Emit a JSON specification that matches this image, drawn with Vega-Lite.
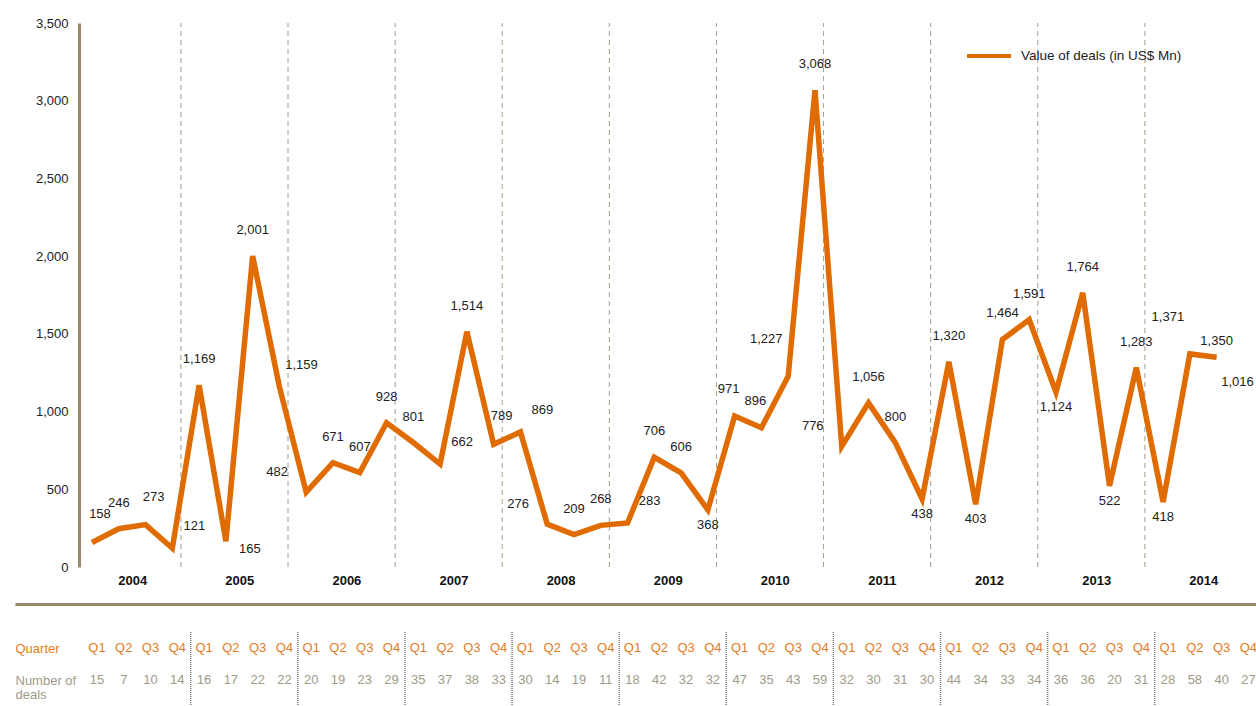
{
  "$schema": "https://vega.github.io/schema/vega-lite/v6.json",
  "width": 1241,
  "height": 683,
  "autosize": {"type": "none"},
  "padding": {"left": 15, "top": 23, "right": 0, "bottom": 0},
  "background": "white",
  "config": {
    "view": {"stroke": null},
    "font": "Liberation Sans",
    "axis": {"grid": false},
    "text": {"font": "Liberation Sans"}
  },
  "data": {
    "values": [
      {"t": 0, "year": 2004, "q": "Q1", "value": 158, "deals": 15},
      {"t": 1, "year": 2004, "q": "Q2", "value": 246, "deals": 7},
      {"t": 2, "year": 2004, "q": "Q3", "value": 273, "deals": 10},
      {"t": 3, "year": 2004, "q": "Q4", "value": 121, "deals": 14},
      {"t": 4, "year": 2005, "q": "Q1", "value": 1169, "deals": 16},
      {"t": 5, "year": 2005, "q": "Q2", "value": 165, "deals": 17},
      {"t": 6, "year": 2005, "q": "Q3", "value": 2001, "deals": 22},
      {"t": 7, "year": 2005, "q": "Q4", "value": 1159, "deals": 22},
      {"t": 8, "year": 2006, "q": "Q1", "value": 482, "deals": 20},
      {"t": 9, "year": 2006, "q": "Q2", "value": 671, "deals": 19},
      {"t": 10, "year": 2006, "q": "Q3", "value": 607, "deals": 23},
      {"t": 11, "year": 2006, "q": "Q4", "value": 928, "deals": 29},
      {"t": 12, "year": 2007, "q": "Q1", "value": 801, "deals": 35},
      {"t": 13, "year": 2007, "q": "Q2", "value": 662, "deals": 37},
      {"t": 14, "year": 2007, "q": "Q3", "value": 1514, "deals": 38},
      {"t": 15, "year": 2007, "q": "Q4", "value": 789, "deals": 33},
      {"t": 16, "year": 2008, "q": "Q1", "value": 869, "deals": 30},
      {"t": 17, "year": 2008, "q": "Q2", "value": 276, "deals": 14},
      {"t": 18, "year": 2008, "q": "Q3", "value": 209, "deals": 19},
      {"t": 19, "year": 2008, "q": "Q4", "value": 268, "deals": 11},
      {"t": 20, "year": 2009, "q": "Q1", "value": 283, "deals": 18},
      {"t": 21, "year": 2009, "q": "Q2", "value": 706, "deals": 42},
      {"t": 22, "year": 2009, "q": "Q3", "value": 606, "deals": 32},
      {"t": 23, "year": 2009, "q": "Q4", "value": 368, "deals": 32},
      {"t": 24, "year": 2010, "q": "Q1", "value": 971, "deals": 47},
      {"t": 25, "year": 2010, "q": "Q2", "value": 896, "deals": 35},
      {"t": 26, "year": 2010, "q": "Q3", "value": 1227, "deals": 43},
      {"t": 27, "year": 2010, "q": "Q4", "value": 3068, "deals": 59},
      {"t": 28, "year": 2011, "q": "Q1", "value": 776, "deals": 32},
      {"t": 29, "year": 2011, "q": "Q2", "value": 1056, "deals": 30},
      {"t": 30, "year": 2011, "q": "Q3", "value": 800, "deals": 31},
      {"t": 31, "year": 2011, "q": "Q4", "value": 438, "deals": 30},
      {"t": 32, "year": 2012, "q": "Q1", "value": 1320, "deals": 44},
      {"t": 33, "year": 2012, "q": "Q2", "value": 403, "deals": 34},
      {"t": 34, "year": 2012, "q": "Q3", "value": 1464, "deals": 33},
      {"t": 35, "year": 2012, "q": "Q4", "value": 1591, "deals": 34},
      {"t": 36, "year": 2013, "q": "Q1", "value": 1124, "deals": 36},
      {"t": 37, "year": 2013, "q": "Q2", "value": 1764, "deals": 36},
      {"t": 38, "year": 2013, "q": "Q3", "value": 522, "deals": 20},
      {"t": 39, "year": 2013, "q": "Q4", "value": 1283, "deals": 31},
      {"t": 40, "year": 2014, "q": "Q1", "value": 418, "deals": 28},
      {"t": 41, "year": 2014, "q": "Q2", "value": 1371, "deals": 58},
      {"t": 42, "year": 2014, "q": "Q3", "value": 1350, "deals": 40},
      {"t": 43, "year": 2014, "q": "Q4", "value": 1016, "deals": 27}
    ]
  },
  "encoding": {
    "x": {
      "field": "t",
      "type": "quantitative",
      "scale": {"domain": [-2.875, 43.47], "nice": false, "zero": false},
      "axis": {
        "orient": "bottom",
        "offset": -102,
        "values": [1.5, 5.5, 9.5, 13.5, 17.5, 21.5, 25.5, 29.5, 33.5, 37.5, 41.5],
        "labelExpr": "'' + (2004 + (datum.value - 1.5) / 4)",
        "ticks": false,
        "tickSize": 0,
        "domainColor": "#988A68",
        "domainWidth": 3,
        "labelFontWeight": "bold",
        "labelFontSize": 13,
        "labelColor": "#111111",
        "labelPadding": -24,
        "labelBaseline": "middle",
        "labelFlush": false,
        "labelOverlap": false,
        "title": null,
        "grid": false
      }
    }
  },
  "layer": [
    {
      "layer": [
        {
          "transform": [{"filter": "datum.q == 'Q4' && datum.t < 43"}],
          "mark": {"type": "rule", "strokeDash": [5, 4], "color": "#A89C84", "strokeWidth": 1, "xOffset": 8.6},
          "encoding": {
            "y": {"datum": 0, "type": "quantitative"},
            "y2": {"datum": 3500}
          }
        },
        {
          "transform": [{"filter": "datum.t <= 42"}],
          "mark": {"type": "line", "strokeWidth": 5.5, "strokeJoin": "miter"},
          "encoding": {
            "y": {
              "field": "value",
              "type": "quantitative",
              "scale": {"domain": [0, 3500], "range": [544, 0], "nice": false, "zero": true},
              "axis": {
                "orient": "left",
                "offset": -64,
                "values": [0, 500, 1000, 1500, 2000, 2500, 3000, 3500],
                "format": ",d",
                "ticks": false,
                "tickSize": 0,
                "domainColor": "#988A68",
                "domainWidth": 3,
                "labelPadding": 11,
                "labelFontSize": 13,
                "labelColor": "#222222",
                "title": null,
                "grid": false
              }
            },
            "color": {
              "datum": "Value of deals (in US$ Mn)",
              "type": "nominal",
              "scale": {"range": ["#E06B00"]},
              "legend": {
                "orient": "none",
                "legendX": 950,
                "legendY": 9,
                "title": null,
                "symbolType": "stroke",
                "symbolSize": 1936,
                "symbolStrokeWidth": 4,
                "labelFontSize": 13.5,
                "labelColor": "#222222",
                "labelOffset": 8,
                "labelLimit": 400,
                "padding": 0
              }
            }
          }
        },
        {
          "transform": [{"filter": {"field": "t", "oneOf": [1, 4, 6, 9, 10, 11, 12, 14, 18, 19, 21, 22, 27, 29, 30, 32, 34, 35, 37, 39]}}],
          "mark": {"type": "text", "fontSize": 13, "color": "#222222", "align": "center", "baseline": "middle", "dx": 0, "dy": -26},
          "encoding": {"y": {"field": "value", "type": "quantitative"}, "text": {"field": "value", "type": "quantitative", "format": ",d"}}
        },
        {
          "transform": [{"filter": {"field": "t", "oneOf": [0, 2, 15]}}],
          "mark": {"type": "text", "fontSize": 13, "color": "#222222", "align": "center", "baseline": "middle", "dx": 8, "dy": -28},
          "encoding": {"y": {"field": "value", "type": "quantitative"}, "text": {"field": "value", "type": "quantitative", "format": ",d"}}
        },
        {
          "transform": [{"filter": {"field": "t", "oneOf": [24, 25, 43]}}],
          "mark": {"type": "text", "fontSize": 13, "color": "#222222", "align": "center", "baseline": "middle", "dx": -6, "dy": -27},
          "encoding": {"y": {"field": "value", "type": "quantitative"}, "text": {"field": "value", "type": "quantitative", "format": ",d"}}
        },
        {
          "transform": [{"filter": {"field": "t", "oneOf": [23, 31, 33, 36, 38, 40]}}],
          "mark": {"type": "text", "fontSize": 13, "color": "#222222", "align": "center", "baseline": "middle", "dx": 0, "dy": 15},
          "encoding": {"y": {"field": "value", "type": "quantitative"}, "text": {"field": "value", "type": "quantitative", "format": ",d"}}
        },
        {
          "transform": [{"filter": {"field": "t", "oneOf": [3, 7, 13, 16, 20]}}],
          "mark": {"type": "text", "fontSize": 13, "color": "#222222", "align": "center", "baseline": "middle", "dx": 22, "dy": -22},
          "encoding": {"y": {"field": "value", "type": "quantitative"}, "text": {"field": "value", "type": "quantitative", "format": ",d"}}
        },
        {
          "transform": [{"filter": {"field": "t", "oneOf": [8, 17, 28]}}],
          "mark": {"type": "text", "fontSize": 13, "color": "#222222", "align": "center", "baseline": "middle", "dx": -29, "dy": -20},
          "encoding": {"y": {"field": "value", "type": "quantitative"}, "text": {"field": "value", "type": "quantitative", "format": ",d"}}
        },
        {
          "transform": [{"filter": {"field": "t", "oneOf": [26, 41]}}],
          "mark": {"type": "text", "fontSize": 13, "color": "#222222", "align": "center", "baseline": "middle", "dx": -22, "dy": -37},
          "encoding": {"y": {"field": "value", "type": "quantitative"}, "text": {"field": "value", "type": "quantitative", "format": ",d"}}
        },
        {
          "transform": [{"filter": {"field": "t", "oneOf": [5]}}],
          "mark": {"type": "text", "fontSize": 13, "color": "#222222", "align": "center", "baseline": "middle", "dx": 24, "dy": 8},
          "encoding": {"y": {"field": "value", "type": "quantitative"}, "text": {"field": "value", "type": "quantitative", "format": ",d"}}
        },
        {
          "transform": [{"filter": {"field": "t", "oneOf": [42]}}],
          "mark": {"type": "text", "fontSize": 13, "color": "#222222", "align": "center", "baseline": "middle", "dx": 0, "dy": -16},
          "encoding": {"y": {"field": "value", "type": "quantitative"}, "text": {"field": "value", "type": "quantitative", "format": ",d"}}
        }
      ]
    },
    {
      "layer": [
        {
          "mark": {"type": "text", "fontSize": 13, "color": "#E37C26", "align": "center", "baseline": "middle", "dx": 5},
          "encoding": {
            "y": {
              "datum": "Quarter",
              "type": "nominal",
              "scale": {"type": "point", "domain": ["Quarter", "Number of deals"], "range": [625, 657], "padding": 0},
              "axis": {
                "orient": "left",
                "labelAlign": "left",
                "labelBaseline": "middle",
                "labelPadding": 0,
                "ticks": false,
                "tickSize": 0,
                "domain": false,
                "labelFontSize": 13,
                "labelLineHeight": 14,
                "labelExpr": "datum.value == 'Number of deals' ? ['Number of', 'deals'] : datum.value",
                "labelColor": {"condition": {"test": "datum.value == 'Quarter'", "value": "#E37C26"}, "value": "#A09A88"},
                "title": null,
                "grid": false
              }
            },
            "text": {"field": "q", "type": "nominal"}
          }
        },
        {
          "mark": {"type": "text", "fontSize": 13, "color": "#A09A88", "align": "center", "baseline": "middle", "dx": 5},
          "encoding": {
            "y": {"datum": "Number of deals", "type": "nominal"},
            "text": {"field": "deals", "type": "quantitative"}
          }
        },
        {
          "transform": [{"filter": "datum.q == 'Q4' && datum.t < 43"}],
          "mark": {"type": "rule", "strokeDash": [1, 1], "color": "#777777", "strokeWidth": 1.5, "xOffset": 18.4, "yOffset": -16, "y2Offset": 26},
          "encoding": {
            "y": {"datum": "Quarter", "type": "nominal"},
            "y2": {"datum": "Number of deals"}
          }
        }
      ]
    }
  ],
  "resolve": {"scale": {"y": "independent"}, "axis": {"y": "independent"}}
}
